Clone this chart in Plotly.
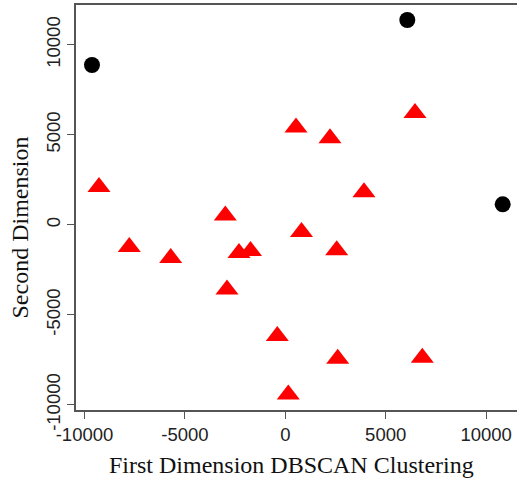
import plotly.graph_objects as go

# Noise points (DBSCAN label -1)
noise_x = [-9627, 6076, 10827]
noise_y = [8878, 11378, 1139]

# Points assigned to the single cluster
cluster_x = [-9278, -7769, -5707, -2988, -2903, -2306, -1733, 533, 807,
             2226, 2560, 3919, 6459, -398, 2610, 6823, 149]
cluster_y = [2100, -1233, -1844, 517, -3600, -1567, -1456, 5406, -400,
             4806, -1411, 1806, 6211, -6178, -7439, -7389, -9433]

tick_vals = [-10000, -5000, 0, 5000, 10000]
tick_text = ["-10000", "-5000", "0", "5000", "10000"]

W, H = 517, 481
L, R, T, B = 76, 0, 5, 71
pw, ph = W - L - R, H - T - B

fig = go.Figure()
fig.add_trace(go.Scatter(
    x=cluster_x, y=cluster_y, mode="markers",
    marker=dict(symbol="triangle-up", size=20, color="#ff0000",
                line=dict(width=0)),
    showlegend=False, hoverinfo="skip"))
fig.add_trace(go.Scatter(
    x=noise_x, y=noise_y, mode="markers",
    marker=dict(symbol="circle", size=16, color="#000000",
                line=dict(width=0)),
    showlegend=False, hoverinfo="skip"))

axis_common = dict(
    showgrid=False, zeroline=False, showline=True,
    linecolor="#555555", linewidth=1.5,
    ticks="outside", ticklen=7, tickwidth=1.2, tickcolor="#555555",
    tickvals=tick_vals, ticktext=tick_text,
    tickfont=dict(family="Liberation Sans, Arial, sans-serif",
                  size=18.5, color="#222222"),
)

fig.update_layout(
    width=W, height=H,
    margin=dict(l=L, r=R, t=T, b=B, pad=0),
    paper_bgcolor="white", plot_bgcolor="white",
    xaxis=dict(range=[-10423, 11539], mirror=True,
               ticklabelstandoff=0, **axis_common),
    yaxis=dict(range=[-10289, 12211], mirror=False, tickangle=-90,
               ticklabelstandoff=0, **axis_common),
    annotations=[
        dict(text="First Dimension DBSCAN Clustering",
             xref="paper", yref="paper",
             x=(291 - L) / pw, y=(H - B - 465) / ph,
             xanchor="center", yanchor="middle", showarrow=False,
             font=dict(family="Liberation Serif, Times New Roman, serif",
                       size=24, color="#111111")),
        dict(text="Second Dimension", textangle=-90,
             xref="paper", yref="paper",
             x=(19 - L) / pw, y=(H - B - 227.5) / ph,
             xanchor="center", yanchor="middle", showarrow=False,
             font=dict(family="Liberation Serif, Times New Roman, serif",
                       size=24, color="#111111")),
    ],
)

fig.write_html("out.html")
